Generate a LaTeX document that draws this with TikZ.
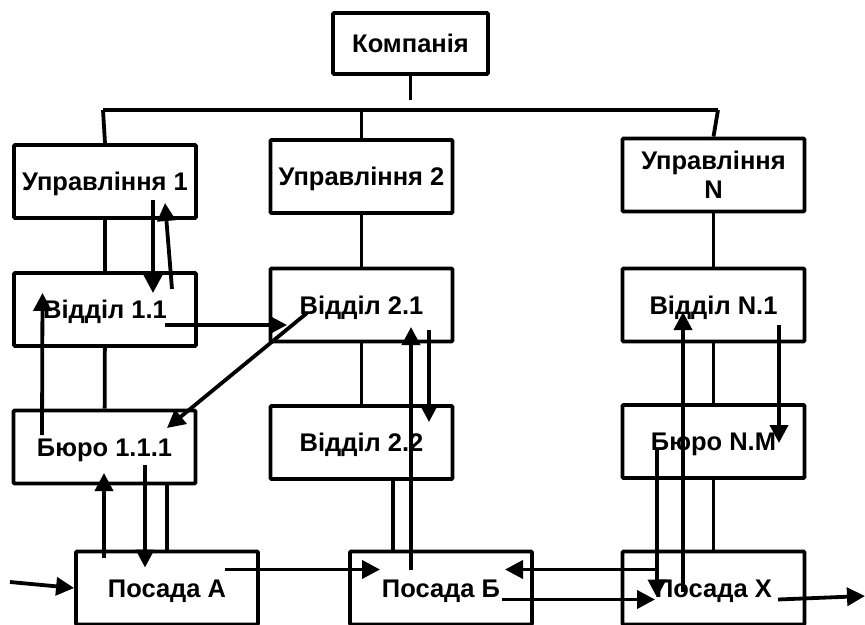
\documentclass[tikz,border=0pt]{standalone}
\usepackage{fontspec}
\setmainfont{Liberation Sans}
\usetikzlibrary{arrows.meta}
\tikzset{unit/.style={draw,line width=3.8pt,rounded corners=1pt,minimum width=182pt,minimum height=73pt,inner sep=2pt,align=center,font=\fontsize{25.5}{29}\selectfont\bfseries},
  line1/.style={unit,text height=18pt,text depth=0pt},
  link/.style={line width=3.8pt},
  flow/.style={line width=3.8pt,-{Triangle[length=18pt,width=18pt]}}}
\begin{document}
\begin{tikzpicture}[x=1pt,y=-1pt]
\useasboundingbox (0,0) rectangle (865,624);
\node[line1,minimum width=155pt,minimum height=61pt] (comp) at (410.5,43.5) {Компанія};
\node[line1] (u1) at (105,181.5) {Управління 1}; \node[line1] (u2) at (361.5,176.5) {Управління 2}; \node[unit] (un) at (713.5,175) {Управління\\N};
\node[line1] (d11) at (105,309.5) {Відділ 1.1}; \node[line1] (d21) at (361.5,305) {Відділ 2.1}; \node[line1] (dn1) at (713.5,305) {Відділ N.1};
\node[line1] (b111) at (104.5,447) {Бюро 1.1.1}; \node[line1] (d22) at (361.5,442.5) {Відділ 2.2}; \node[line1] (bnm) at (713.5,441.5) {Бюро N.M};
\node[line1] (pa) at (167,588) {Посада А}; \node[line1] (pb) at (441,588) {Посада Б}; \node[line1] (px) at (713.5,588) {Посада Х};
\coordinate (busL) at (103,110); \coordinate (busR) at (718,110);
\coordinate (in) at (10,582); \coordinate (out) at (865,596);
% tree
\draw[link] (comp.south) -- ++(0,24);
\draw[link] (busL) -- (busR); \draw[link] (busL) -- (u1.north); \draw[link] (u2.north |- busL) -- (u2.north); \draw[link] (busR) -- (un.north);
\draw[link] (u1) -- (d11) -- (b111); \draw[link] (u2) -- (d21) -- (d22); \draw[link] (un) -- (dn1) -- (bnm) -- (px);
\draw[link] (pa.north |- b111.south) -- (pa.north);
\draw[link] ([xshift=31.5pt]d22.south) -- ([xshift=31.5pt]d22.south |- pb.north);
% flows
\draw[flow] ([shift={(48,18.5)}]u1.center) -- ([shift={(48,-16.5)}]d11.center);
\draw[flow] ([shift={(67,-20.5)}]d11.center) -- ([shift={(60,21.5)}]u1.center);
\draw[flow] ([shift={(60,15.5)}]d11.center) -- ([shift={(-74.5,20)}]d21.center);
\draw[flow] ([shift={(-54.5,8)}]d21.center) -- ([shift={(62.5,-19)}]b111.center);
\draw[flow] ([shift={(-62.5,-12)}]b111.center) -- ([shift={(-62.5,-16.5)}]d11.center);
\draw[flow] ([shift={(-63,-30.5)}]pa.center) -- ([shift={(-0.5,26)}]b111.center);
\draw[flow] ([shift={(40.5,18)}]b111.center) -- ([shift={(-22,-20.5)}]pa.center);
\draw[flow] (in) -- (pa.west);
\draw[flow] ([shift={(58,-18.5)}]pa.center) -- ([shift={(-61,-18.5)}]pb.center);
\draw[flow] ([shift={(-30,-18.5)}]pb.center) -- ([shift={(49.5,22)}]d21.center);
\draw[flow] ([shift={(67.5,25)}]d21.center) -- ([shift={(67.5,-20.5)}]d22.center);
\draw[flow] ([shift={(-58.5,-18.5)}]px.center) -- ([shift={(64,-18.5)}]pb.center);
\draw[flow] ([shift={(61,11.5)}]pb.center) -- ([shift={(-58.5,11.5)}]px.center);
\draw[flow] ([shift={(65.5,20)}]dn1.center) -- ([shift={(65.5,1.5)}]bnm.center);
\draw[flow] ([shift={(-30.5,3.5)}]px.center) -- ([shift={(-30.5,7)}]dn1.center);
\draw[flow] ([shift={(-56.5,6.5)}]bnm.center) -- ([shift={(-56.5,9.5)}]px.center);
\draw[flow] ([shift={(64.5,11.5)}]px.center) -- (out);
\end{tikzpicture}
\end{document}
